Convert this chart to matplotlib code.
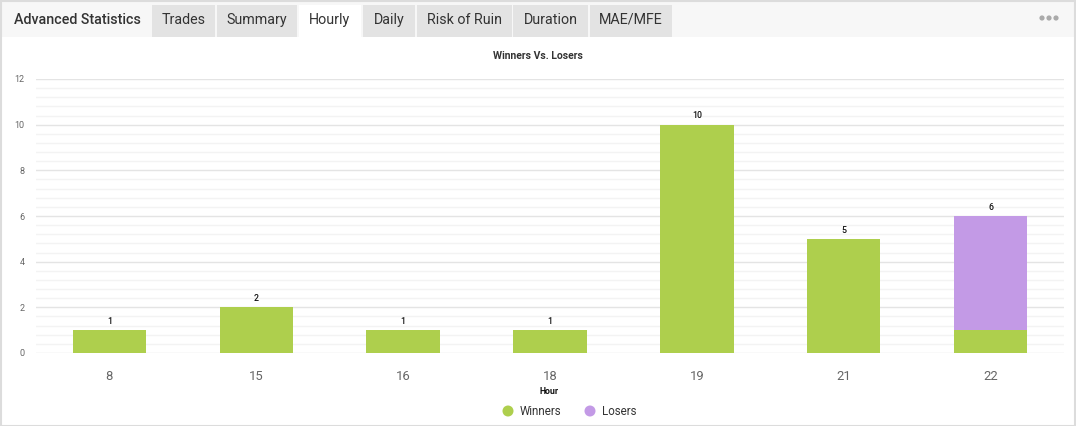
import matplotlib
matplotlib.use("Agg")
import matplotlib.pyplot as plt
from matplotlib.patches import Rectangle, Circle
from matplotlib.ticker import MultipleLocator

# data
hours = ["8", "15", "16", "18", "19", "21", "22"]
winners = [1, 2, 1, 1, 10, 5, 1]
losers = [0, 0, 0, 0, 0, 0, 5]

tabs = ["Trades", "Summary", "Hourly", "Daily", "Risk of Ruin", "Duration", "MAE/MFE"]
tab_edges = [(152, 215), (217, 297), (299, 361), (363, 415), (417, 512), (513, 588), (590, 672)]
active_tab = "Hourly"

green = "#aecf4d"
purple = "#c39ae6"

plt.rcParams['font.family'] = ['Roboto', 'DejaVu Sans']

W, H = 1076, 426
fig = plt.figure(figsize=(W / 100, H / 100), dpi=100)

# page background / header drawn in pixel coords
bg = fig.add_axes([0, 0, 1, 1], zorder=0)
bg.set_xlim(0, W)
bg.set_ylim(H, 0)
bg.axis("off")
bg.add_patch(Rectangle((0, 0), W, 37, facecolor="#f7f7f7", edgecolor="none"))
bg.add_patch(Rectangle((0, 37), W, H - 37, facecolor="white", edgecolor="none"))
bg.add_patch(Rectangle((0.5, 0.5), W - 2, H - 1, facecolor="none", edgecolor="#dcdcdc", lw=1.5))
bg.text(14, 20, "Advanced Statistics", fontsize=10.3, color="#333333", va="center", ha="left",
        fontweight="medium")
for name, (x0, x1) in zip(tabs, tab_edges):
    fc = "white" if name == active_tab else "#e3e3e3"
    bg.add_patch(Rectangle((x0, 5), x1 - x0, 32, facecolor=fc, edgecolor="none"))
    bg.text((x0 + x1) / 2, 20, name, fontsize=10.3, color="#333333", va="center", ha="center")
for i, cx in enumerate([1042, 1049, 1056]):
    bg.add_patch(Circle((cx, 18), 2.6, facecolor="#aaaaaa", edgecolor="none"))

bg.text(538, 56, "Winners Vs. Losers", fontsize=7.5, fontweight="bold", color="#333333",
        ha="center", va="center")
bg.text(549, 392, "Hour", fontsize=6.3, fontweight="bold", color="#111111", ha="center", va="center")

# legend
bg.add_patch(Circle((508, 411), 5.5, facecolor=green, edgecolor="none"))
bg.text(520, 411.5, "Winners", fontsize=8.3, color="#333333", ha="left", va="center")
bg.add_patch(Circle((590, 411), 5.5, facecolor=purple, edgecolor="none"))
bg.text(602, 411.5, "Losers", fontsize=8.3, color="#333333", ha="left", va="center")

# chart
left, right, top, bottom = 36, 1064, 79, 353
ax = fig.add_axes([left / W, 1 - bottom / H, (right - left) / W, (bottom - top) / H], zorder=1)
ax.patch.set_alpha(0)
x = list(range(len(hours)))
ax.bar(x, winners, width=0.5, color=green, zorder=3)
ax.bar(x, losers, width=0.5, bottom=winners, color=purple, zorder=3)
for i in x:
    total = winners[i] + losers[i]
    ax.annotate(str(total), (i, total), xytext=(0, 3), textcoords="offset points",
                ha="center", va="bottom", fontsize=6.3, color="#111111", fontweight="medium")

ax.set_xlim(-0.5, len(hours) - 0.5)
ax.set_ylim(0, 12)
ax.yaxis.set_major_locator(MultipleLocator(2))
ax.yaxis.set_minor_locator(MultipleLocator(0.4))
ax.grid(axis="y", which="major", color="#e4e4e4", lw=1, zorder=0)
ax.grid(axis="y", which="minor", color="#f3f3f3", lw=1, zorder=0)
ax.set_xticks(x)
ax.set_xticklabels(hours)
for s in ax.spines.values():
    s.set_visible(False)
ax.tick_params(axis="y", which="both", length=0, labelsize=6.5, labelcolor="#666666", pad=8)
ax.tick_params(axis="x", length=0, labelsize=9.4, labelcolor="#666666", pad=12)

fig.savefig("out.png", dpi=100)
